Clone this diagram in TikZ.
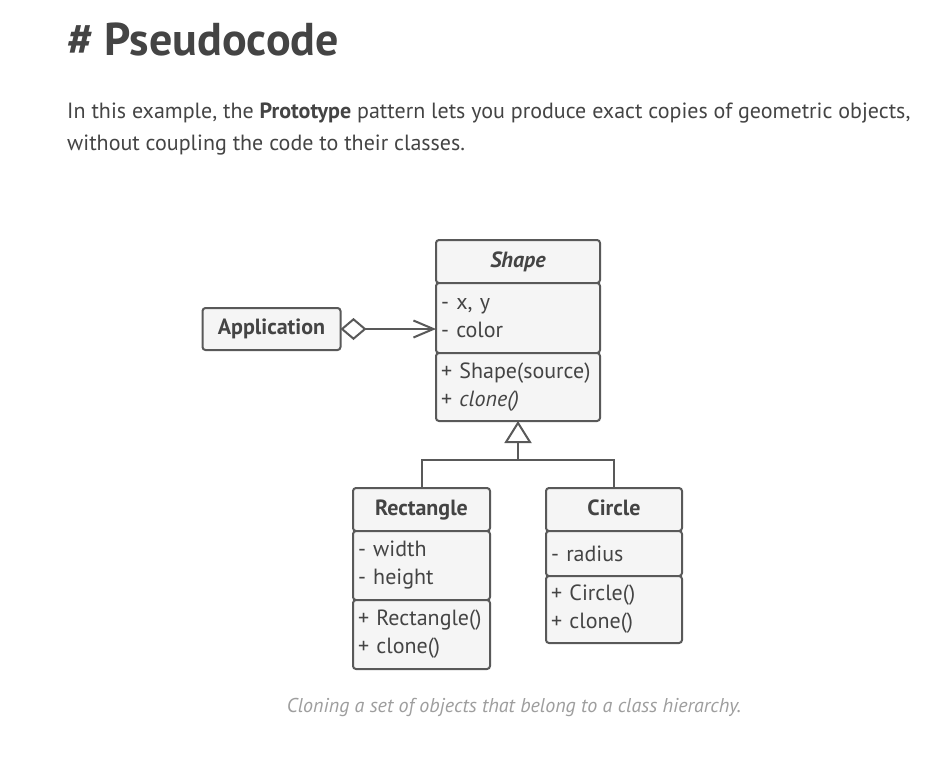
\documentclass[tikz,border=0pt]{standalone}
\usepackage{fontspec}
\setmainfont{PT Sans}
\usetikzlibrary{positioning,arrows.meta}

\definecolor{ink}{HTML}{444444}
\definecolor{boxline}{HTML}{595959}
\definecolor{boxfill}{HTML}{F5F5F5}
\definecolor{capgray}{HTML}{9E9E9E}

\begin{document}
\begin{tikzpicture}
    [x=1pt,y=-1pt,
      part/.style={draw=boxline,fill=boxfill,line width=2pt,rounded corners=3pt,outer sep=0pt,inner sep=0pt,text=ink},
      head/.style={part,font=\fontsize{22}{26}\selectfont\bfseries,text height=16pt,text depth=5pt,minimum height=43pt},
      field/.style={part,align=left,inner xsep=5pt,font=\fontsize{22}{28}\selectfont},
      link/.style={draw=boxline,line width=2pt},
      prose/.style={anchor=base west,inner sep=0pt,text=ink,font=\fontsize{22}{32}\selectfont}]

    \useasboundingbox[fill=white] (0,0) rectangle (948,758);

    % page text
    \node[prose,font=\fontsize{46}{54}\selectfont\bfseries] (title) at (67,55) {\# Pseudocode};
    \node[prose] (intro1) at (67,118) {In this example, the \textbf{Prototype} pattern lets you produce exact copies of geometric objects,};
    \node[prose] (intro2) at (67,150) {without coupling the code to their classes.};

    % classes
    \node[head,minimum width=164pt] (shapehead) at (518,261.5) {\textit{Shape}};
    \node[field,text width=154pt,minimum height=70pt,below=0pt of shapehead] (shapeattr) {- x, y\\- color};
    \node[field,text width=154pt,minimum height=68pt,below=0pt of shapeattr] (shapemeth) {+ Shape(source)\\+ \textit{clone()}};

    \node[head,minimum width=138pt,minimum height=42pt] (app) at (271.5,329) {Application};

    \node[head,minimum width=137pt] (recthead) at (421.5,509.5) {Rectangle};
    \node[field,text width=127pt,minimum height=69pt,below=0pt of recthead] (rectattr) {- width\\- height};
    \node[field,text width=127pt,minimum height=69pt,below=0pt of rectattr] (rectmeth) {+ Rectangle()\\+ clone()};

    \node[head,minimum width=136pt] (circhead) at (614,509.5) {Circle};
    \node[field,text width=126pt,minimum height=45pt,below=0pt of circhead] (circattr) {- radius};
    \node[field,text width=126pt,minimum height=67pt,below=0pt of circattr] (circmeth) {+ Circle()\\+ clone()};

    % relations
    \draw[link,{Diamond[open,fill=white,length=26pt,width=22pt]}-{Straight Barb[length=20pt,width=17pt]}]
      (app.east) -- (app.east -| shapeattr.west);

    \coordinate (bus) at (518,460);
    \foreach \sub in {recthead,circhead}
      \draw[link] (\sub.north) |- (bus);
    \draw[link,-{Triangle[open,fill=white,length=22pt,width=27pt]}] (bus) -- (shapemeth.south);

    \node[anchor=base,inner sep=0pt,text=capgray,font=\fontsize{20}{24}\selectfont\itshape] (caption) at (514,712)
      {Cloning a set of objects that belong to a class hierarchy.};

\end{tikzpicture}
\end{document}
